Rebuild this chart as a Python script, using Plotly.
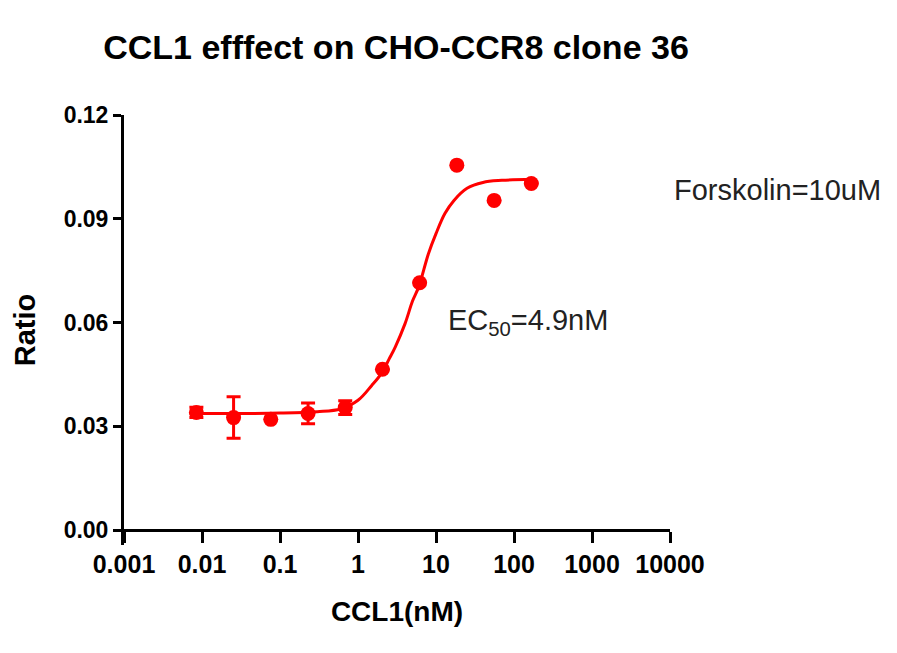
import plotly.graph_objects as go

# Data
conc_nM = [0.00847, 0.0254, 0.0762, 0.229, 0.686, 2.06, 6.17, 18.5, 55.6, 166.7]
ratio = [0.0340, 0.0325, 0.0320, 0.0337, 0.0354, 0.0465, 0.0715, 0.1055, 0.0953, 0.1002]
ratio_err = [0.0015, 0.0060, 0.0, 0.0030, 0.0020, 0.0, 0.0, 0.0, 0.0, 0.0]

# Fitted curve
fit_x = [0.0085, 0.03, 0.1, 0.3, 0.6, 1.0, 1.5, 2.0, 2.5, 3.0, 4.0, 5.0, 6.0, 8.0, 10, 13, 17, 25, 40, 70, 170]
fit_y = [0.0337, 0.0337, 0.0338, 0.0342, 0.0350, 0.0375, 0.0418, 0.0453, 0.0494, 0.0529, 0.0596, 0.0662,
         0.0703, 0.0799, 0.0857, 0.0915, 0.0953, 0.0988, 0.1005, 0.1011, 0.1014]

x_ticks = [0.001, 0.01, 0.1, 1, 10, 100, 1000, 10000]
x_ticktext = ["0.001", "0.01", "0.1", "1", "10", "100", "1000", "10000"]
y_ticks = [0.0, 0.03, 0.06, 0.09, 0.12]

RED = "#ff0000"
FONT = "Liberation Sans, Arial, sans-serif"

fig = go.Figure()
fig.add_trace(go.Scatter(x=fit_x, y=fit_y, mode="lines", line=dict(color=RED, width=3, shape="spline"),
                         showlegend=False, hoverinfo="skip"))
fig.add_trace(go.Scatter(x=conc_nM, y=ratio, mode="markers",
                         marker=dict(color=RED, size=15, symbol="circle"),
                         error_y=dict(type="data", array=ratio_err, color=RED, thickness=3, width=7),
                         showlegend=False))

W, H = 897, 653
OFF = 8  # page body margin
ml, mr, mt, mb = 124 - OFF, W - (670 - OFF), 115 - OFF, H - (545 - OFF)
plot_h = H - mt - mb
plot_w = W - ml - mr
ymax = 0.12
ymin = -ymax * 15 / 415

fig.update_layout(
    width=W, height=H,
    margin=dict(l=ml, r=mr, t=mt, b=mb),
    paper_bgcolor="white", plot_bgcolor="white",
    font=dict(family=FONT, color="black"),
    title=dict(text="<b>CCL1 efffect on CHO-CCR8 clone 36</b>", x=(396 - OFF) / W, xanchor="center",
               y=1 - (47 - OFF) / H, yanchor="middle", font=dict(size=34, family=FONT, color="black")),
    xaxis=dict(type="log", range=[-3, 4], tickvals=x_ticks, ticktext=x_ticktext,
               showgrid=False, zeroline=False, showline=True, linecolor="black", linewidth=3,
               ticks="outside", ticklen=11, tickwidth=3, tickcolor="black",
               tickfont=dict(size=25, family=FONT, color="black", weight="bold"),
               anchor="free", position=15 / plot_h,
               title=dict(text="<b>CCL1(nM)</b>", font=dict(size=28, family=FONT, color="black"), standoff=24)),
    yaxis=dict(range=[ymin, ymax], tickvals=y_ticks, tickformat=".2f",
               showgrid=False, zeroline=False, showline=True, linecolor="black", linewidth=3,
               ticks="outside", ticklen=8, tickwidth=3, tickcolor="black",
               tickfont=dict(size=23, family=FONT, color="black", weight="bold"),
               title=dict(text="<b>Ratio</b>", font=dict(size=29, family=FONT, color="black"), standoff=20)),
)

fig.add_annotation(text="Forskolin=10uM", xref="paper", yref="paper",
                   x=(672 - 124) / plot_w, y=1 - (190 - 115) / plot_h,
                   xanchor="left", yanchor="middle", showarrow=False,
                   font=dict(size=29, family=FONT, color="#222222"))
fig.add_annotation(text="EC<sub>50</sub>=4.9nM", xref="paper", yref="paper",
                   x=(446 - 124) / plot_w, y=1 - (322 - 115) / plot_h,
                   xanchor="left", yanchor="middle", showarrow=False,
                   font=dict(size=29, family=FONT, color="#222222"))

fig.write_html("out.html")
